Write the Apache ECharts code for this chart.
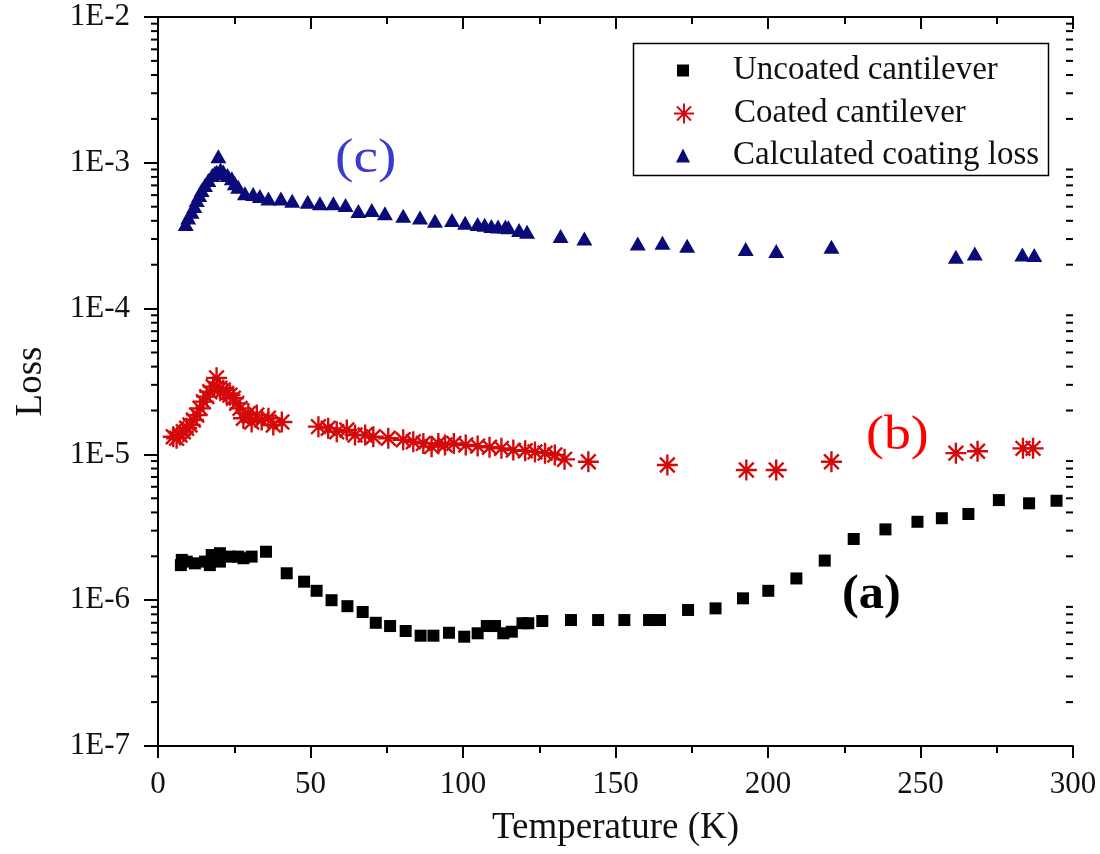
<!DOCTYPE html>
<html>
<head>
<meta charset="utf-8">
<script src="https://cdn.jsdelivr.net/npm/echarts@6/dist/echarts.min.js"></script>
<style>
html,body{margin:0;padding:0;background:#fff;}
#chart{width:1100px;height:854px;}
</style>
</head>
<body>
<div id="chart"></div>
<script>
// ---- data ----
const uncoatedT = [7.5, 7.8, 9.4, 12.1, 15.4, 17.0, 17.6, 20.3, 20.3, 23.6, 26.3, 28.0, 30.7, 35.4, 42.2, 47.9, 52.0, 56.9, 62.1, 67.1, 71.4, 76.1, 81.2, 86.1, 90.3, 95.4, 100.4, 104.8, 107.8, 110.5, 113.2, 116.0, 119.5, 121.4, 126.0, 135.4, 144.3, 152.9, 161.0, 164.6, 173.8, 182.8, 191.8, 200.1, 209.3, 218.6, 228.1, 238.5, 249.0, 257.0, 265.7, 275.7, 285.6, 294.6];
const uncoatedLoss = [1.74e-6, 1.89e-6, 1.84e-6, 1.79e-6, 1.84e-6, 1.74e-6, 2.04e-6, 2.10e-6, 1.84e-6, 1.99e-6, 1.99e-6, 1.94e-6, 1.99e-6, 2.15e-6, 1.53e-6, 1.34e-6, 1.16e-6, 1.00e-6, 9.1e-7, 8.3e-7, 7.0e-7, 6.65e-7, 6.15e-7, 5.71e-7, 5.71e-7, 5.98e-7, 5.62e-7, 5.93e-7, 6.65e-7, 6.65e-7, 5.93e-7, 6.08e-7, 6.95e-7, 6.95e-7, 7.2e-7, 7.31e-7, 7.31e-7, 7.31e-7, 7.31e-7, 7.31e-7, 8.57e-7, 8.79e-7, 1.03e-6, 1.16e-6, 1.41e-6, 1.87e-6, 2.63e-6, 3.06e-6, 3.45e-6, 3.65e-6, 3.90e-6, 4.86e-6, 4.62e-6, 4.81e-6];

const coatedT = [5.0, 6.1, 7.2, 8.3, 9.4, 10.5, 11.6, 12.7, 13.8, 14.9, 16.0, 17.0, 18.1, 19.2, 20.3, 21.4, 22.5, 23.6, 24.7, 25.8, 26.9, 28.0, 29.6, 30.7, 32.4, 34.0, 36.2, 37.8, 40.6, 52.6, 55.8, 58.6, 61.9, 64.6, 67.9, 70.6, 75.5, 80.4, 83.7, 87.0, 89.7, 91.9, 94.1, 97.0, 100.9, 104.8, 108.7, 112.6, 116.5, 120.4, 123.6, 126.9, 130.1, 133.3, 141.1, 167.0, 192.9, 202.7, 220.8, 261.6, 268.7, 283.6, 286.9];
const coatedLoss = [1.32e-5, 1.29e-5, 1.36e-5, 1.43e-5, 1.51e-5, 1.59e-5, 1.72e-5, 1.86e-5, 2.07e-5, 2.30e-5, 2.49e-5, 2.69e-5, 2.91e-5, 3.35e-5, 2.84e-5, 2.77e-5, 2.62e-5, 2.55e-5, 2.43e-5, 2.24e-5, 2.07e-5, 1.77e-5, 1.91e-5, 1.67e-5, 1.86e-5, 1.72e-5, 1.77e-5, 1.59e-5, 1.67e-5, 1.55e-5, 1.51e-5, 1.43e-5, 1.47e-5, 1.36e-5, 1.36e-5, 1.32e-5, 1.29e-5, 1.26e-5, 1.22e-5, 1.19e-5, 1.13e-5, 1.19e-5, 1.16e-5, 1.19e-5, 1.16e-5, 1.14e-5, 1.12e-5, 1.10e-5, 1.07e-5, 1.06e-5, 1.04e-5, 1.02e-5, 9.9e-6, 9.25e-6, 8.9e-6, 8.46e-6, 7.81e-6, 7.81e-6, 8.9e-6, 1.02e-5, 1.05e-5, 1.10e-5, 1.10e-5];

const calcT = [9.1, 9.9, 11.0, 11.9, 12.7, 13.5, 14.3, 15.4, 16.5, 17.8, 18.6, 19.2, 19.8, 20.5, 21.4, 22.8, 24.2, 25.2, 26.3, 28.5, 31.2, 33.4, 36.2, 40.3, 44.0, 49.1, 53.1, 57.5, 61.5, 65.7, 70.1, 74.4, 80.4, 85.9, 90.8, 96.4, 100.7, 104.8, 107.1, 109.3, 111.5, 113.9, 114.9, 118.4, 121.0, 132.0, 139.8, 157.3, 165.4, 173.5, 192.7, 202.7, 220.8, 261.6, 267.8, 283.4, 287.3];
const calcLoss = [3.80e-4, 4.22e-4, 4.62e-4, 5.06e-4, 5.56e-4, 6.01e-4, 6.50e-4, 7.04e-4, 7.62e-4, 8.24e-4, 8.5e-4, 8.69e-4, 1.11e-3, 9.0e-4, 8.7e-4, 8.24e-4, 7.83e-4, 7.23e-4, 6.86e-4, 6.18e-4, 6.11e-4, 5.92e-4, 5.70e-4, 5.70e-4, 5.50e-4, 5.41e-4, 5.27e-4, 5.27e-4, 5.14e-4, 4.67e-4, 4.74e-4, 4.50e-4, 4.34e-4, 4.22e-4, 4.01e-4, 4.06e-4, 3.88e-4, 3.80e-4, 3.76e-4, 3.69e-4, 3.66e-4, 3.66e-4, 3.61e-4, 3.46e-4, 3.37e-4, 3.15e-4, 3.03e-4, 2.80e-4, 2.83e-4, 2.70e-4, 2.56e-4, 2.48e-4, 2.66e-4, 2.27e-4, 2.39e-4, 2.35e-4, 2.33e-4];

const seriesNames = ['Uncoated cantilever', 'Coated cantilever', 'Calculated coating loss'];
const xTickLabels = ['0', '50', '100', '150', '200', '250', '300'];
const yTickLabels = ['1E-7', '1E-6', '1E-5', '1E-4', '1E-3', '1E-2'];
const annotations = ['(a)', '(b)', '(c)'];

// ---- chart ----
const FONT = '"Liberation Serif", "DejaVu Serif", serif';
const zip = (xs, ys) => xs.map((x, i) => [x, ys[i]]);
const xMin = Number(xTickLabels[0]), xMax = Number(xTickLabels[xTickLabels.length - 1]);
const yExp = yTickLabels.map(s => Number(s.slice(2)));
const yMin = Math.pow(10, yExp[0]), yMax = Math.pow(10, yExp[yExp.length - 1]);
const yMinor = [];
for (let e = yExp[0]; e < yExp[yExp.length - 1]; e++) {
  for (let m = 2; m <= 9; m++) yMinor.push([xMin, m * Math.pow(10, e)]);
}
const yFmt = v => {
  const e = Math.round(Math.log10(v));
  const i = yExp.indexOf(e);
  return i >= 0 ? yTickLabels[i] : '';
};
const asterisk = 'path://M10 0 L10 20 M0 10 L20 10 M3 3 L17 17 M17 3 L3 17';
const colors = ['#000000', '#d40a0a', '#0a0a78'];

const legendText = {fontFamily: FONT, fontSize: 33, color: '#111', lineHeight: 32};
function mkLegend(idx, size, top) {
  const left = 683 - size / 2;
  return {
    orient: 'vertical', left: left, top: top, data: [seriesNames[idx]],
    itemWidth: size, itemHeight: size, padding: 0, selectedMode: false,
    textStyle: Object.assign({}, legendText, {padding: [0, 0, 0, 733 - (left + size + 5)]})
  };
}

const chart = echarts.init(document.getElementById('chart'), null, {renderer: 'canvas'});
const axisLineStyle = {color: '#000', width: 2};
chart.setOption({
  animation: false,
  backgroundColor: '#fff',
  grid: {left: 158, right: 27, top: 17, bottom: 108},
  legend: [mkLegend(0, 12, 54), mkLegend(1, 20, 97), mkLegend(2, 14, 139)],
  xAxis: [{
    type: 'value', position: 'bottom', min: xMin, max: xMax, interval: 50,
    name: 'Temperature (K)', nameLocation: 'middle', nameGap: 64,
    nameTextStyle: {fontFamily: FONT, fontSize: 37, color: '#111'},
    axisLine: {show: true, lineStyle: axisLineStyle},
    axisTick: {show: true, inside: false, length: 12, lineStyle: {color: '#000', width: 2}},
    minorTick: {show: true, splitNumber: 2, length: 7, lineStyle: {color: '#000', width: 2}},
    axisLabel: {fontFamily: FONT, fontSize: 31, color: '#111', margin: 23,
      formatter: v => xTickLabels[xTickLabels.indexOf(String(v))] || ''},
    splitLine: {show: false}
  }, {
    type: 'value', position: 'top', min: xMin, max: xMax, interval: 50,
    axisLine: {show: true, lineStyle: axisLineStyle},
    axisTick: {show: true, inside: true, length: 12, lineStyle: {color: '#000', width: 2}},
    minorTick: {show: true, splitNumber: 2, length: 7, lineStyle: {color: '#000', width: 2}},
    axisLabel: {show: false},
    splitLine: {show: false}
  }],
  yAxis: [{
    type: 'log', logBase: 10, position: 'left', min: yMin, max: yMax,
    name: 'Loss', nameLocation: 'middle', nameGap: 108, nameRotate: 90,
    nameTextStyle: {fontFamily: FONT, fontSize: 37, color: '#111'},
    axisLine: {show: true, lineStyle: axisLineStyle},
    axisTick: {show: true, inside: false, length: 14, lineStyle: {color: '#000', width: 2}},
    axisLabel: {fontFamily: FONT, fontSize: 31, color: '#111', margin: 28, formatter: yFmt},
    splitLine: {show: false}
  }, {
    type: 'log', logBase: 10, position: 'right', min: yMin, max: yMax,
    axisLine: {show: true, lineStyle: axisLineStyle},
    axisTick: {show: true, inside: true, length: 14, lineStyle: {color: '#000', width: 2}},
    axisLabel: {show: false},
    splitLine: {show: false}
  }],
  series: [{
    name: seriesNames[0], type: 'scatter', data: zip(uncoatedT, uncoatedLoss),
    symbol: 'rect', symbolSize: 12, itemStyle: {color: colors[0], opacity: 1}, z: 3
  }, {
    name: seriesNames[1], type: 'scatter', data: zip(coatedT, coatedLoss),
    symbol: asterisk, symbolSize: 21,
    itemStyle: {color: 'rgba(0,0,0,0)', borderColor: colors[1], borderWidth: 2.4, opacity: 1}, z: 3
  }, {
    name: seriesNames[2], type: 'scatter', data: zip(calcT, calcLoss),
    symbol: 'triangle', symbolSize: [16, 14], itemStyle: {color: colors[2], opacity: 1}, z: 3
  }, {
    name: 'minorY', type: 'custom', silent: true, clip: false, z: 5,
    data: yMinor,
    renderItem: (params, api) => {
      const v = api.value(1);
      const l = api.coord([xMin, v]);
      const r = api.coord([xMax, v]);
      const st = {stroke: '#000', lineWidth: 2};
      return {type: 'group', children: [
        {type: 'line', shape: {x1: l[0] - 7, y1: l[1], x2: l[0], y2: l[1]}, style: st},
        {type: 'line', shape: {x1: r[0] - 7, y1: r[1], x2: r[0], y2: r[1]}, style: st}
      ]};
    }
  }],
  graphic: [
    {type: 'rect', left: 631, top: 41, shape: {width: 415, height: 132},
     style: {fill: 'none', stroke: '#000', lineWidth: 1.5}, z: 10},
    {type: 'text', left: 842, top: 572, scaleX: 1.05, style: {text: annotations[0], font: 'bold 48px ' + FONT, fill: '#000'}},
    {type: 'text', left: 866, top: 412, scaleX: 1.12, style: {text: annotations[1], font: '48px ' + FONT, fill: '#ff0000'}},
    {type: 'text', left: 335, top: 135, scaleX: 1.15, style: {text: annotations[2], font: '48px ' + FONT, fill: '#3a3acc'}}
  ]
});
</script>
</body>
</html>
